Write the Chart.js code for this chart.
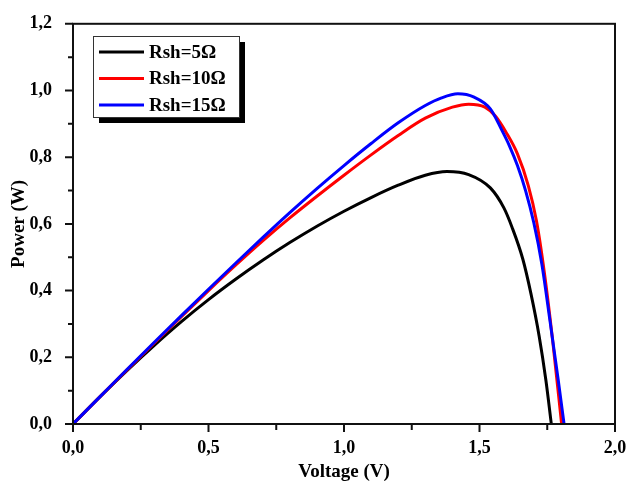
<!DOCTYPE html>
<html>
<head>
<meta charset="utf-8">
<script src="https://cdn.jsdelivr.net/npm/chart.js@4/dist/chart.umd.min.js"></script>
<style>
html, body { margin: 0; padding: 0; background: #fff; }
</style>
</head>
<body>
<canvas id="chart" width="627" height="482"></canvas>
<script>
// series names
var seriesNames = ["Rsh=5\u03A9", "Rsh=10\u03A9", "Rsh=15\u03A9"];
var seriesColors = ["#000000", "#ff0000", "#0000ff"];

// Rsh = 5 ohm
var volt5 = [0, 0.1, 0.2, 0.3, 0.4, 0.5, 0.6, 0.7, 0.8, 0.9, 1.0, 1.1, 1.2, 1.3, 1.38, 1.46, 1.54, 1.59, 1.62, 1.66, 1.69, 1.72, 1.745, 1.765];
var pow5  = [0, 0.082, 0.161, 0.236, 0.307, 0.373, 0.434, 0.491, 0.544, 0.593, 0.638, 0.679, 0.716, 0.746, 0.757, 0.748, 0.708, 0.648, 0.59, 0.494, 0.39, 0.264, 0.131, 0];

// Rsh = 10 ohm
var volt10 = [0, 0.1, 0.2, 0.3, 0.4, 0.5, 0.6, 0.7, 0.8, 0.9, 1.0, 1.1, 1.2, 1.3, 1.4, 1.46, 1.52, 1.56, 1.6, 1.64, 1.68, 1.71, 1.74, 1.77, 1.803];
var pow10  = [0, 0.082, 0.163, 0.243, 0.322, 0.400, 0.476, 0.549, 0.618, 0.683, 0.746, 0.807, 0.865, 0.917, 0.950, 0.959, 0.950, 0.922, 0.872, 0.810, 0.715, 0.61, 0.45, 0.25, 0];

// Rsh = 15 ohm
var volt15 = [0, 0.1, 0.2, 0.3, 0.4, 0.5, 0.6, 0.7, 0.8, 0.9, 1.0, 1.1, 1.2, 1.3, 1.36, 1.42, 1.48, 1.54, 1.58, 1.61, 1.64, 1.67, 1.70, 1.73, 1.76, 1.79, 1.812];
var pow15  = [0, 0.082, 0.164, 0.245, 0.325, 0.404, 0.482, 0.559, 0.634, 0.706, 0.775, 0.841, 0.903, 0.955, 0.978, 0.990, 0.980, 0.945, 0.885, 0.835, 0.775, 0.70, 0.605, 0.48, 0.31, 0.135, 0];

// axis ticks
var xTicks = [0, 0.5, 1.0, 1.5, 2.0];
var yTicks = [0, 0.2, 0.4, 0.6, 0.8, 1.0, 1.2];

function pts(vs, ps) {
  return vs.map(function (v, i) { return { x: v, y: ps[i] }; });
}
function fmt(v) {
  return Number(v).toFixed(1).replace('.', ',');
}

var serif = "'Liberation Serif', 'Times New Roman', serif";

var frameAndLegend = {
  id: 'frameAndLegend',
  afterDraw: function (chart) {
    var ctx = chart.ctx;
    var a = chart.chartArea;
    var xs = chart.scales.x, ys = chart.scales.y;
    ctx.save();

    // ticks (major + minor), outward
    ctx.strokeStyle = '#111';
    ctx.lineWidth = 2;
    ctx.beginPath();
    yTicks.forEach(function (t, i) {
      var py = ys.getPixelForValue(t);
      ctx.moveTo(a.left - 8, py); ctx.lineTo(a.left, py);
      if (i < yTicks.length - 1) {
        var my = ys.getPixelForValue((t + yTicks[i + 1]) / 2);
        ctx.moveTo(a.left - 5, my); ctx.lineTo(a.left, my);
      }
    });
    xTicks.forEach(function (t, i) {
      var px = xs.getPixelForValue(t);
      ctx.moveTo(px, a.bottom); ctx.lineTo(px, a.bottom + 8);
      if (i < xTicks.length - 1) {
        var mx = xs.getPixelForValue((t + xTicks[i + 1]) / 2);
        ctx.moveTo(mx, a.bottom); ctx.lineTo(mx, a.bottom + 6);
      }
    });
    ctx.stroke();

    // frame
    ctx.strokeRect(a.left, a.top, a.right - a.left, a.bottom - a.top);

    // legend box with shadow
    var lx = 93, ly = 36, lw = 146, lh = 81;
    ctx.fillStyle = '#000';
    ctx.fillRect(lx + 6, ly + 6, lw, lh);
    ctx.fillStyle = '#fff';
    ctx.fillRect(lx, ly, lw, lh);
    ctx.strokeStyle = '#333';
    ctx.lineWidth = 1;
    ctx.strokeRect(lx + 0.5, ly + 0.5, lw, lh);

    ctx.font = 'bold 19px ' + serif;
    ctx.textBaseline = 'middle';
    ctx.textAlign = 'left';
    chart.data.datasets.forEach(function (ds, i) {
      var yy = 52 + i * 26.5;
      ctx.strokeStyle = ds.borderColor;
      ctx.lineWidth = 3;
      ctx.beginPath();
      ctx.moveTo(99, yy); ctx.lineTo(144, yy);
      ctx.stroke();
      ctx.fillStyle = '#000';
      ctx.fillText(ds.label, 149, yy + 1);
    });
    ctx.restore();
  }
};

new Chart(document.getElementById('chart'), {
  type: 'line',
  data: {
    datasets: [
      { label: seriesNames[0], data: pts(volt5, pow5), borderColor: seriesColors[0], order: 2 },
      { label: seriesNames[1], data: pts(volt10, pow10), borderColor: seriesColors[1], order: 1 },
      { label: seriesNames[2], data: pts(volt15, pow15), borderColor: seriesColors[2], order: 0 }
    ]
  },
  options: {
    responsive: false,
    animation: false,
    events: [],
    layout: { padding: { top: 22, right: 12, left: 0, bottom: 0 } },
    elements: {
      line: { borderWidth: 3, cubicInterpolationMode: 'monotone', fill: false },
      point: { radius: 0 }
    },
    plugins: {
      legend: { display: false },
      tooltip: { enabled: false }
    },
    scales: {
      x: {
        type: 'linear',
        min: 0, max: 2,
        afterBuildTicks: function (s) { s.ticks = xTicks.map(function (v) { return { value: v }; }); },
        afterFit: function (s) { s.height = 58; s.paddingLeft = 0; s.paddingRight = 0; },
        grid: { display: false },
        border: { display: false },
        ticks: {
          color: '#000', padding: 6, maxRotation: 0,
          font: { family: serif, size: 18, weight: 'bold' },
          callback: function (v) { return fmt(v); }
        },
        title: {
          display: true, text: 'Voltage (V)', color: '#000',
          font: { family: serif, size: 19, weight: 'bold' },
          padding: { top: 0, bottom: -1 }
        }
      },
      y: {
        type: 'linear',
        min: 0, max: 1.2,
        afterBuildTicks: function (s) { s.ticks = yTicks.map(function (v) { return { value: v }; }); },
        afterFit: function (s) { s.width = 73; },
        grid: { display: false },
        border: { display: false },
        ticks: {
          color: '#000', padding: 13,
          font: { family: serif, size: 18, weight: 'bold' },
          callback: function (v) { return fmt(v); }
        },
        title: {
          display: true, text: 'Power (W)', color: '#000',
          font: { family: serif, size: 19, weight: 'bold' },
          padding: { top: 8, bottom: 0 }
        }
      }
    }
  },
  plugins: [frameAndLegend]
});
</script>
</body>
</html>
